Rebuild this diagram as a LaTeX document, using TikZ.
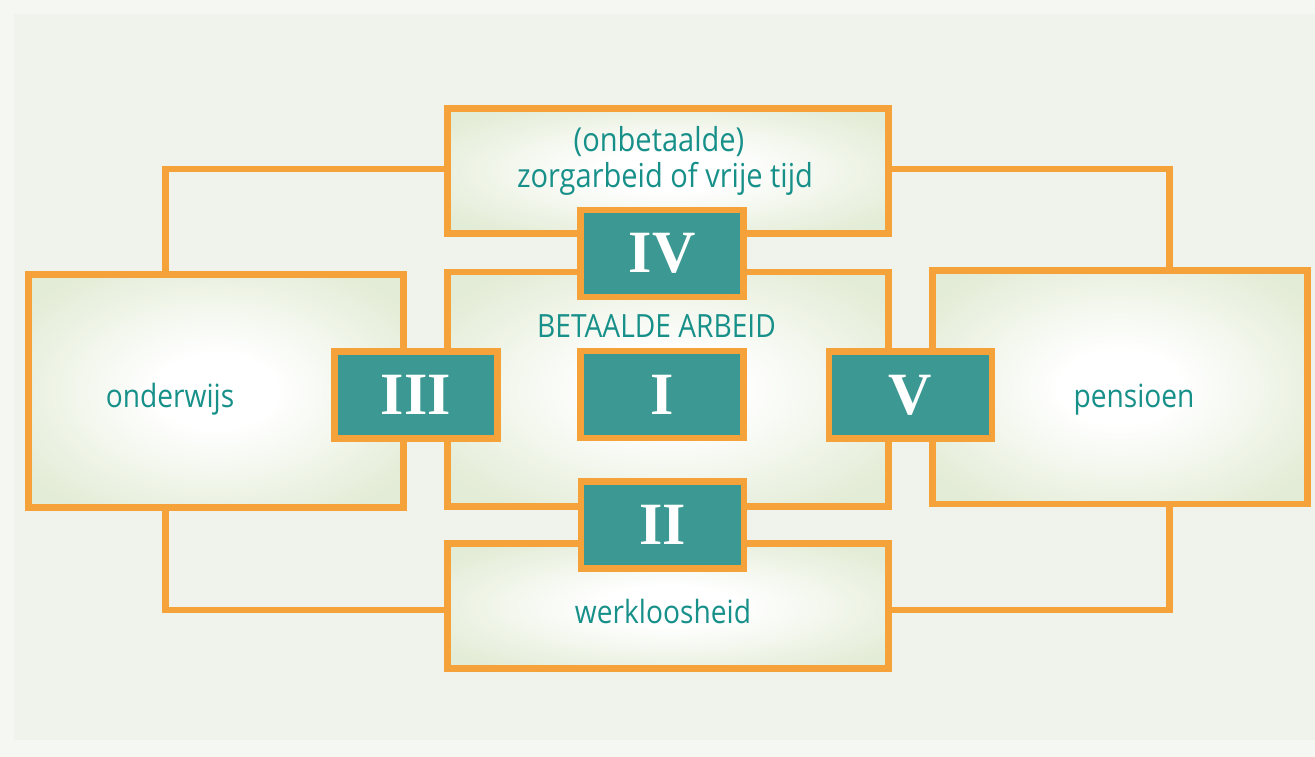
\documentclass[tikz,border=0pt]{standalone}
\usepackage{fontspec}
\newfontfamily\labelfont[FakeStretch=0.88]{Open Sans}
\newfontfamily\numeralfont{Liberation Serif}
\definecolor{frame}{HTML}{F6A23A}
\definecolor{tealbox}{HTML}{3B9893}
\definecolor{tealtext}{HTML}{18908A}
\definecolor{paper}{HTML}{EFF3EC}
\definecolor{paperedge}{HTML}{F4F7F2}
\definecolor{boxedge}{HTML}{E3ECD6}
% white centre fading softly to a pale green rim
\pgfdeclareradialshading{boxglow}{\pgfpoint{0bp}{0bp}}{%
  color(0bp)=(white); color(8bp)=(white); color(31bp)=(boxedge); color(50bp)=(boxedge)}

\begin{document}
\begin{tikzpicture}[x=1pt,y=-1pt,
  area/.style={rectangle, draw=frame, line width=6.5pt, inner sep=0pt, outer sep=0pt,
    shading=boxglow},
  numeral/.style={rectangle, draw=frame, line width=6.5pt, fill=tealbox, inner sep=0pt,
    outer sep=0pt, minimum width=163pt, minimum height=87pt, text=white,
    font=\numeralfont\bfseries\fontsize{60}{60}\selectfont},
  label/.style={text=tealtext, inner sep=0pt, anchor=base,
    font=\labelfont\fontsize{32}{35}\selectfont},
  biglabel/.style={label, font=\labelfont\fontsize{33}{35}\selectfont},
  link/.style={draw=frame, line width=6.5pt, line join=miter}
]
% paper
\useasboundingbox (0,0) rectangle (1315,757);
\fill[paperedge] (0,0) rectangle (1315,757);
\fill[paper] (14,14) rectangle (1315,740);

% corner points of the connecting lines
\coordinate (tl) at (165.5,169);
\coordinate (tr) at (1169.5,169);
\coordinate (bl) at (165.5,610);
\coordinate (br) at (1169.5,610);

% areas
\node[area, minimum width=441pt, minimum height=125pt] (top) at (668,171) {};
\node[area, minimum width=441pt, minimum height=234.5pt] (work) at (668,389) {};
\node[area, minimum width=441pt, minimum height=125pt] (bottom) at (668,606) {};
\node[area, minimum width=375pt, minimum height=233pt] (left) at (216,391) {};
\node[area, minimum width=375pt, minimum height=233.5pt] (right) at (1120,387) {};

% connecting lines
\draw[link] (left.north -| tl) -- (tl) -- (top.west |- tl);
\draw[link] (top.east |- tr) -- (tr) -- (right.north -| tr);
\draw[link] (left.south -| bl) -- (bl) -- (bottom.west |- bl);
\draw[link] (bottom.east |- br) -- (br) -- (right.south -| br);

% transitions
\node[numeral] (n4) at (662,253.5) {IV};
\node[numeral] (n1) at (662,394.5) {I};
\node[numeral] (n3) at (416,395) {III};
\node[numeral] (n5) at (910.5,395) {V};
\node[numeral] (n2) at (662.5,525) {II};

% labels
\node[biglabel] (t1) at (659,152) {(onbetaalde)};
\node[biglabel] (t2) at (665,187) {zorgarbeid of vrije tijd};
\node[label] (t3) at (656.5,337) {BETAALDE ARBEID};
\node[label] (t4) at (170,407) {onderwijs};
\node[label] (t5) at (1134,407) {pensioen};
\node[label] (t6) at (663,623) {werkloosheid};
\end{tikzpicture}
\end{document}
